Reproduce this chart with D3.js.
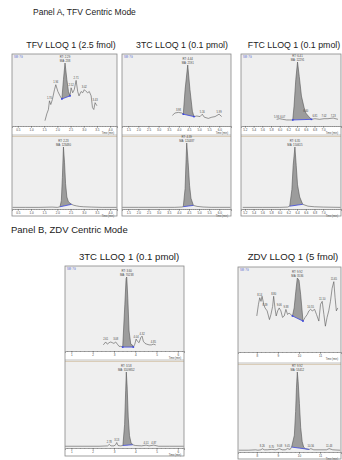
<!DOCTYPE html>
<html>
<head>
<meta charset="utf-8">
<script src="https://cdn.jsdelivr.net/npm/d3@7"></script>
<style>
  body { margin: 0; background: #fff; }
  svg { display: block; font-family: Arial, "Liberation Sans", sans-serif; }
</style>
</head>
<body>
<svg id="chart" width="342" height="460"></svg>
<script>
// ---- data (time in min, relative abundance 0-100) ----

// Panel A, TFV
var tfvTopT = [1.53, 1.60, 1.66, 1.70, 1.75, 1.81, 1.89, 1.94, 2.02, 2.10, 2.17, 2.23, 2.29, 2.36, 2.42, 2.48, 2.52, 2.58, 2.64, 2.71, 2.77, 2.82, 2.90, 2.96, 3.02, 3.09, 3.15, 3.21, 3.28, 3.33, 3.38, 3.43, 3.50];
var tfvTopI = [7, 18, 25, 39, 33, 41, 57, 65, 54, 47, 42, 73, 100, 73, 54, 47, 60, 52, 57, 72, 54, 47, 54, 52, 57, 54, 52, 54, 47, 28, 25, 36, 31];
var tfvTopShade = [2.17, 2.48];
var tfvTopLabels = [1.70, 1.94, 2.52, 2.71, 3.02, 3.43];
var tfvTopRT = ['RT: 2.29', 'MA: 238'];

var tfvBotT = [0.30, 0.80, 1.30, 1.80, 2.00, 2.10, 2.15, 2.19, 2.23, 2.27, 2.31, 2.36, 2.42, 2.48, 2.54, 2.62, 2.72, 2.85, 3.00, 3.30, 3.70, 4.25];
var tfvBotI = [1, 1, 1, 1.5, 1, 2, 12, 50, 100, 75, 40, 18, 10, 8, 6, 4.5, 3.5, 2.5, 2, 1.5, 1, 1];
var tfvBotShade = [2.10, 2.54];
var tfvBotLabels = [];
var tfvBotRT = ['RT: 2.23', 'MA: 123480'];

var tfvTicks = [0.5, 1.0, 1.5, 2.0, 2.5, 3.0, 3.5, 4.0];

// Panel A, 3TC
var t3aTopT = [3.68, 3.81, 3.98, 4.14, 4.22, 4.31, 4.44, 4.55, 4.67, 4.75, 4.89, 5.05, 5.16, 5.26, 5.46, 5.63, 5.79, 5.99, 6.12];
var t3aTopI = [16, 20, 21, 20, 18, 59, 100, 59, 23, 14, 15, 14, 18, 13, 11, 13, 14, 18, 14];
var t3aTopShade = [4.22, 4.75];
var t3aTopLabels = [3.98, 5.16, 5.99];
var t3aTopRT = ['RT: 4.44', 'MA: 2191'];

var t3aBotT = [1.20, 2.00, 3.00, 3.80, 4.15, 4.22, 4.31, 4.36, 4.39, 4.46, 4.53, 4.60, 4.72, 4.90, 5.20, 5.60, 6.00, 6.55];
var t3aBotI = [1, 1, 1, 1, 1.5, 2, 30, 75, 100, 70, 35, 15, 4, 2.5, 1.5, 1, 1, 1];
var t3aBotShade = [4.22, 4.72];
var t3aBotLabels = [];
var t3aBotRT = ['RT: 4.39', 'MA: 124487'];

var t3aTicks = [1.5, 2.0, 2.5, 3.0, 3.5, 4.0, 4.5, 5.0, 5.5, 6.0];

// Panel A, FTC
var ftcTopT = [5.93, 6.00, 6.07, 6.16, 6.23, 6.30, 6.33, 6.37, 6.41, 6.45, 6.50, 6.56, 6.60, 6.66, 6.73, 6.81, 6.92, 7.02, 7.11, 7.23, 7.34];
var ftcTopI = [9, 10, 9, 8, 8, 8, 30, 72, 100, 77, 46, 28, 19, 14, 9, 10, 9, 10, 10, 11, 9];
var ftcTopShade = [6.30, 6.73];
var ftcTopLabels = [5.93, 6.07, 6.60, 6.81, 7.02, 7.23];
var ftcTopRT = ['RT: 6.41', 'MA: 12291'];

var ftcBotT = [5.15, 5.60, 6.00, 6.18, 6.23, 6.28, 6.31, 6.35, 6.38, 6.41, 6.46, 6.53, 6.65, 6.80, 7.00, 7.40];
var ftcBotI = [1, 1, 1, 1.5, 3, 30, 70, 100, 70, 38, 18, 6, 3, 2, 1.5, 1];
var ftcBotShade = [6.23, 6.53];
var ftcBotLabels = [];
var ftcBotRT = ['RT: 6.35', 'MA: 150615'];

var ftcTicks = [5.2, 5.4, 5.6, 5.8, 6.0, 6.2, 6.4, 6.6, 6.8, 7.0];

// Panel B, 3TC
var t3bTopT = [2.50, 2.61, 2.69, 2.77, 2.85, 2.92, 3.00, 3.08, 3.16, 3.24, 3.32, 3.41, 3.51, 3.57, 3.60, 3.65, 3.71, 3.79, 3.86, 3.91, 3.98, 4.04, 4.10, 4.18, 4.26, 4.32, 4.38, 4.46, 4.54, 4.65, 4.76, 4.85, 4.96];
var t3bTopI = [7, 11, 8, 10, 11, 10, 9, 11, 8, 5, 5, 4, 62, 98, 100, 71, 26, 8, 7, 4, 8, 15, 12, 10, 17, 19, 12, 9, 8, 7, 7, 8, 7];
var t3bTopShade = [3.41, 3.91];
var t3bTopLabels = [2.61, 3.08, 4.04, 4.32, 4.85];
var t3bTopRT = ['RT: 3.60', 'MA: 70238'];

var t3bBotT = [0.70, 1.50, 2.30, 2.70, 2.78, 2.86, 3.00, 3.08, 3.13, 3.19, 3.30, 3.42, 3.50, 3.55, 3.58, 3.62, 3.67, 3.73, 3.80, 3.88, 4.00, 4.30, 4.51, 4.65, 4.87, 5.10, 5.60, 6.28];
var t3bBotI = [1, 1, 1, 1.5, 3.5, 1.5, 1.5, 3, 6, 2, 1.5, 2, 30, 75, 100, 80, 40, 15, 6, 3, 2, 1.5, 2.5, 1.5, 2.5, 1, 1, 1];
var t3bBotShade = [3.42, 3.88];
var t3bBotLabels = [2.78, 3.13, 4.51, 4.87];
var t3bBotRT = ['RT: 3.58', 'MA: 3109852'];

var t3bTicks = [1, 2, 3, 4, 5, 6];

// Panel B, ZDV
var zdvTopT = [8.00, 8.08, 8.14, 8.20, 8.25, 8.33, 8.39, 8.49, 8.60, 8.67, 8.75, 8.80, 8.86, 8.92, 8.99, 9.06, 9.14, 9.22, 9.30, 9.38, 9.46, 9.53, 9.61, 9.69, 9.77, 9.85, 9.92, 10.00, 10.08, 10.19, 10.29, 10.39, 10.47, 10.55, 10.63, 10.74, 10.83, 10.94, 11.02, 11.10, 11.18, 11.25, 11.33, 11.41, 11.49, 11.57, 11.65, 11.71, 11.77, 11.84];
var zdvTopI = [48, 64, 73, 68, 75, 64, 59, 55, 43, 50, 61, 75, 59, 48, 55, 59, 55, 46, 48, 57, 50, 52, 50, 48, 59, 82, 100, 97, 77, 41, 46, 50, 55, 57, 55, 57, 50, 41, 64, 68, 50, 34, 46, 55, 68, 86, 95, 73, 55, 59];
var zdvTopShade = [9.69, 10.19];
var zdvTopLabels = [8.14, 8.39, 8.80, 9.06, 9.38, 10.55, 11.10, 11.65];
var zdvTopRT = ['RT: 9.92', 'MA: 3536'];

var zdvBotT = [7.15, 7.60, 7.95, 8.05, 8.20, 8.26, 8.35, 8.50, 8.70, 8.90, 9.08, 9.20, 9.35, 9.45, 9.58, 9.65, 9.78, 9.84, 9.88, 9.92, 9.96, 10.02, 10.08, 10.15, 10.22, 10.30, 10.48, 10.56, 10.70, 11.00, 11.30, 11.43, 11.60, 11.95];
var zdvBotI = [1, 1, 1.5, 1, 1.5, 3, 1.5, 1.5, 2, 1.5, 3, 1.5, 1.5, 3, 2, 5, 20, 50, 80, 100, 88, 60, 30, 12, 5, 3, 2, 3, 1.5, 1.5, 1.5, 3, 1.5, 1];
var zdvBotShade = [9.65, 10.48];
var zdvBotLabels = [8.26, 8.70, 9.08, 9.45, 10.56, 11.43];
var zdvBotRT = ['RT: 9.92', 'MA: 53412'];

var zdvTicks = [8, 9, 10, 11];

// ---- layout ----
var svg = d3.select('#chart');

var headings = [
  { text: 'Panel A, TFV Centric Mode', x: 33, y: 15, size: 8.5 },
  { text: 'Panel B, ZDV Centric Mode', x: 11, y: 233, size: 9.5 }
];

headings.forEach(function(h) {
  svg.append('text')
    .attr('x', h.x).attr('y', h.y)
    .attr('font-size', h.size)
    .attr('fill', '#222')
    .text(h.text);
});

function pack(t, v, shade, labels, rt) {
  return { t: t, v: v, shade: shade, labels: labels, rt: rt };
}

var boxes = [
  { title: 'TFV LLOQ 1 (2.5 fmol)', tx: 71, ty: 48, tsize: 8.8,
    x0: 12, x1: 117, top: 54, axis1: 126, div: 135, axis2: 209, bottom: 216,
    peak1: 63, peak2: 147, domain: [0.28, 4.26], ticks: tfvTicks, minor: 0.1, fmt: d3.format('.1f'),
    upper: pack(tfvTopT, tfvTopI, tfvTopShade, tfvTopLabels, tfvTopRT),
    lower: pack(tfvBotT, tfvBotI, tfvBotShade, tfvBotLabels, tfvBotRT) },
  { title: '3TC LLOQ 1 (0.1 pmol)', tx: 182, ty: 48, tsize: 8.8,
    x0: 122, x1: 231, top: 54, axis1: 126, div: 135, axis2: 209, bottom: 216,
    peak1: 65, peak2: 143, domain: [1.19, 6.58], ticks: t3aTicks, minor: 0.1, fmt: d3.format('.1f'),
    upper: pack(t3aTopT, t3aTopI, t3aTopShade, t3aTopLabels, t3aTopRT),
    lower: pack(t3aBotT, t3aBotI, t3aBotShade, t3aBotLabels, t3aBotRT) },
  { title: 'FTC LLOQ 1 (0.1 pmol)', tx: 294, ty: 48, tsize: 8.8,
    x0: 241, x1: 341, top: 54, axis1: 126, div: 135, axis2: 209, bottom: 216,
    peak1: 62, peak2: 147, domain: [5.11, 7.41], ticks: ftcTicks, minor: 0.05, fmt: d3.format('.1f'),
    upper: pack(ftcTopT, ftcTopI, ftcTopShade, ftcTopLabels, ftcTopRT),
    lower: pack(ftcBotT, ftcBotI, ftcBotShade, ftcBotLabels, ftcBotRT) },
  { title: '3TC LLOQ 1 (0.1 pmol)', tx: 129, ty: 260, tsize: 9.6,
    x0: 65, x1: 184, top: 266, axis1: 351, div: 360, axis2: 448, bottom: 456,
    peak1: 277, peak2: 372, domain: [0.70, 6.29], ticks: t3bTicks, minor: 0.2, fmt: d3.format('d'),
    upper: pack(t3bTopT, t3bTopI, t3bTopShade, t3bTopLabels, t3bTopRT),
    lower: pack(t3bBotT, t3bBotI, t3bBotShade, t3bBotLabels, t3bBotRT) },
  { title: 'ZDV LLOQ 1 (5 fmol)', tx: 293, ty: 260, tsize: 9.6,
    x0: 238, x1: 341, top: 267, axis1: 352, div: 363, axis2: 452, bottom: 459,
    peak1: 278, peak2: 372, domain: [7.11, 11.99], ticks: zdvTicks, minor: 0.2, fmt: d3.format('d'),
    upper: pack(zdvTopT, zdvTopI, zdvTopShade, zdvTopLabels, zdvTopRT),
    lower: pack(zdvBotT, zdvBotI, zdvBotShade, zdvBotLabels, zdvBotRT) }
];

function drawAxis(g, x, yPos, b) {
  var minorTicks = d3.range(Math.ceil(b.domain[0] / b.minor) * b.minor, b.domain[1], b.minor);
  g.append('g')
    .attr('transform', 'translate(0,' + yPos + ')')
    .call(d3.axisBottom(x).tickValues(minorTicks).tickSize(1).tickFormat(''))
    .call(function(a) { a.select('.domain').remove(); })
    .selectAll('line').attr('stroke', '#666').attr('stroke-width', 0.3);

  var ax = g.append('g')
    .attr('transform', 'translate(0,' + yPos + ')')
    .call(d3.axisBottom(x).tickValues(b.ticks).tickSize(2).tickPadding(1).tickFormat(b.fmt));
  ax.select('.domain').attr('stroke', '#444').attr('stroke-width', 0.5);
  ax.selectAll('.tick line').attr('stroke', '#444').attr('stroke-width', 0.4);
  ax.selectAll('text').attr('font-size', 3).attr('fill', '#444').attr('font-family', 'Arial, sans-serif');

  g.append('text')
    .attr('x', b.x1 - 3).attr('y', yPos + 7.5)
    .attr('text-anchor', 'end')
    .attr('font-size', 2.6)
    .attr('fill', '#444')
    .text('Time (min)');
}

function drawTrace(g, x, y, tr) {
  var pts = tr.t.map(function(t, i) { return { t: t, v: tr.v[i] }; });

  // integrated peak
  var s0 = pts.find(function(d) { return d.t === tr.shade[0]; });
  var s1 = pts.find(function(d) { return d.t === tr.shade[1]; });
  var inPeak = pts.filter(function(d) { return d.t >= s0.t && d.t <= s1.t; });
  var base = d3.scaleLinear().domain([s0.t, s1.t]).range([y(s0.v), y(s1.v)]);

  g.append('path')
    .datum(inPeak)
    .attr('fill', '#9c9c9c')
    .attr('stroke', 'none')
    .attr('d', d3.area()
      .x(function(d) { return x(d.t); })
      .y0(function(d) { return base(d.t); })
      .y1(function(d) { return y(d.v); }));

  g.append('path')
    .datum(pts)
    .attr('fill', 'none')
    .attr('stroke', '#555')
    .attr('stroke-width', 0.6)
    .attr('stroke-linejoin', 'round')
    .attr('d', d3.line()
      .x(function(d) { return x(d.t); })
      .y(function(d) { return y(d.v); }));

  g.append('line')
    .attr('x1', x(s0.t)).attr('y1', y(s0.v))
    .attr('x2', x(s1.t)).attr('y2', y(s1.v))
    .attr('stroke', '#3b46e0')
    .attr('stroke-width', 0.8);

  g.selectAll('rect.mark')
    .data([s0, s1])
    .enter().append('rect')
    .attr('class', 'mark')
    .attr('x', function(d) { return x(d.t) - 0.8; })
    .attr('y', function(d) { return y(d.v) - 0.8; })
    .attr('width', 1.6).attr('height', 1.6)
    .attr('fill', '#3b46e0');

  // peak labels
  tr.labels.forEach(function(t) {
    var d = pts.find(function(p) { return p.t === t; });
    g.append('text')
      .attr('x', x(d.t)).attr('y', y(d.v) - 1.5)
      .attr('text-anchor', 'middle')
      .attr('font-size', 2.6)
      .attr('fill', '#444')
      .text(d3.format('.2f')(d.t));
  });

  var apex = pts.reduce(function(a, b) { return b.v > a.v ? b : a; });
  tr.rt.forEach(function(line, i) {
    g.append('text')
      .attr('x', x(apex.t)).attr('y', y(apex.v) - 4.6 + i * 3.1)
      .attr('text-anchor', 'middle')
      .attr('font-size', 2.8)
      .attr('fill', '#444')
      .text(line);
  });
}

boxes.forEach(function(b) {
  svg.append('text')
    .attr('x', b.tx).attr('y', b.ty)
    .attr('text-anchor', 'middle')
    .attr('font-size', b.tsize)
    .attr('fill', '#222')
    .text(b.title);

  var g = svg.append('g');
  var x = d3.scaleLinear().domain(b.domain).range([b.x0, b.x1]);
  var y1 = d3.scaleLinear().domain([0, 100]).range([b.axis1 - 1, b.peak1]);
  var y2 = d3.scaleLinear().domain([0, 100]).range([b.axis2 - 1, b.peak2]);

  // backgrounds
  g.append('rect')
    .attr('x', b.x0).attr('y', b.top)
    .attr('width', b.x1 - b.x0).attr('height', b.bottom - b.top)
    .attr('fill', '#fff');
  g.append('rect')
    .attr('x', b.x0).attr('y', b.top)
    .attr('width', b.x1 - b.x0).attr('height', b.axis1 - b.top)
    .attr('fill', '#efefef');
  g.append('rect')
    .attr('x', b.x0).attr('y', b.div + 2)
    .attr('width', b.x1 - b.x0).attr('height', b.axis2 - b.div - 2)
    .attr('fill', '#efefef');

  // divider
  g.append('line')
    .attr('x1', b.x0).attr('x2', b.x1)
    .attr('y1', b.div).attr('y2', b.div)
    .attr('stroke', '#999').attr('stroke-width', 0.6);
  g.append('line')
    .attr('x1', b.x0).attr('x2', b.x1)
    .attr('y1', b.div + 1.4).attr('y2', b.div + 1.4)
    .attr('stroke', '#cbb99d').attr('stroke-width', 0.8);

  // small tag
  g.append('text')
    .attr('x', b.x0 + 2).attr('y', b.top + 3.5)
    .attr('font-size', 2.6)
    .attr('fill', '#5566cc')
    .text('SM: 7G');

  drawTrace(g, x, y1, b.upper);
  drawTrace(g, x, y2, b.lower);

  drawAxis(g, x, b.axis1, b);
  drawAxis(g, x, b.axis2, b);

  // frame
  g.append('rect')
    .attr('x', b.x0).attr('y', b.top)
    .attr('width', b.x1 - b.x0).attr('height', b.bottom - b.top)
    .attr('fill', 'none')
    .attr('stroke', '#888')
    .attr('stroke-width', 0.8);
});
</script>
</body>
</html>
